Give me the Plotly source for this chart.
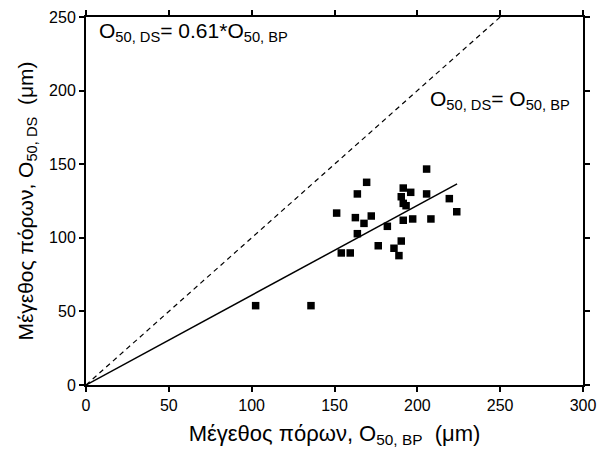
import plotly.graph_objects as go

# Measured points (O50,BP vs O50,DS), in µm
o50_bp = [205.6, 169.4, 163.8, 191.5, 196.0, 190.3, 205.6, 219.3, 191.5, 193.2,
          223.8, 151.3, 162.6, 172.2, 167.8, 181.9, 191.5, 197.2, 208.2, 163.8,
          190.3, 176.4, 185.9, 188.9, 154.1, 159.5, 102.4, 135.8]
o50_ds = [146.7, 137.7, 129.8, 133.8, 130.9, 127.9, 129.8, 126.6, 123.4, 121.8,
          117.7, 116.8, 113.7, 114.8, 109.8, 107.8, 111.9, 112.8, 112.8, 102.8,
          97.8, 94.6, 92.9, 87.9, 89.7, 89.7, 53.9, 53.9]

# Fit line O50,DS = 0.61*O50,BP
fit_x = [0, 224]
fit_y = [0, 0.61 * 224]

# Reference line O50,DS = O50,BP
ref_x = [0, 250]
ref_y = [0, 250]

x_ticks = [0, 50, 100, 150, 200, 250, 300]
y_ticks = [0, 50, 100, 150, 200, 250]

FONT = "Liberation Sans, Arial, sans-serif"

fig = go.Figure()
fig.add_trace(go.Scatter(x=ref_x, y=ref_y, mode="lines",
                         line=dict(color="black", width=1.2, dash="5px,4px"),
                         showlegend=False, hoverinfo="skip"))
fig.add_trace(go.Scatter(x=fit_x, y=fit_y, mode="lines",
                         line=dict(color="black", width=1.5),
                         showlegend=False, hoverinfo="skip"))
fig.add_trace(go.Scatter(x=o50_bp, y=o50_ds, mode="markers",
                         marker=dict(symbol="square", size=7.5, color="black"),
                         showlegend=False))

axis_common = dict(showgrid=False, zeroline=False, showline=True, linecolor="black",
                   linewidth=2, ticks="outside", ticklen=5, tickwidth=2,
                   tickcolor="black", mirror="ticks", automargin=False,
                   tickfont=dict(family=FONT, size=16, color="black"))

fig.update_xaxes(range=[0, 300], tickvals=x_ticks, ticktext=[str(v) for v in x_ticks],
                 title=dict(text="Μέγεθος πόρων, O<sub>50, BP</sub>  (μm)",
                            font=dict(family=FONT, size=22, color="black"), standoff=12),
                 **axis_common)
fig.update_yaxes(range=[0, 250], tickvals=y_ticks, ticktext=[str(v) for v in y_ticks],
                 title=dict(text="Μέγεθος πόρων, O<sub>50, DS</sub>  (μm)",
                            font=dict(family=FONT, size=21, color="black"), standoff=10),
                 **axis_common)

fig.add_annotation(xref="paper", yref="paper", x=0.022, y=1.0, xanchor="left", yanchor="top",
                   text="O<sub>50, DS</sub>= 0.61*O<sub>50, BP</sub>", showarrow=False,
                   font=dict(family=FONT, size=21, color="black"))
fig.add_annotation(xref="paper", yref="paper", x=0.688, y=0.815, xanchor="left", yanchor="top",
                   text="O<sub>50, DS</sub>= O<sub>50, BP</sub>", showarrow=False,
                   font=dict(family=FONT, size=21, color="black"))

# page body has an 8px margin, so the figure is shifted by 8px
fig.update_layout(width=599, height=450, plot_bgcolor="white", paper_bgcolor="white",
                  margin=dict(l=78, r=24, t=9, b=73),
                  font=dict(family=FONT, color="black"))

fig.write_html("out.html")
